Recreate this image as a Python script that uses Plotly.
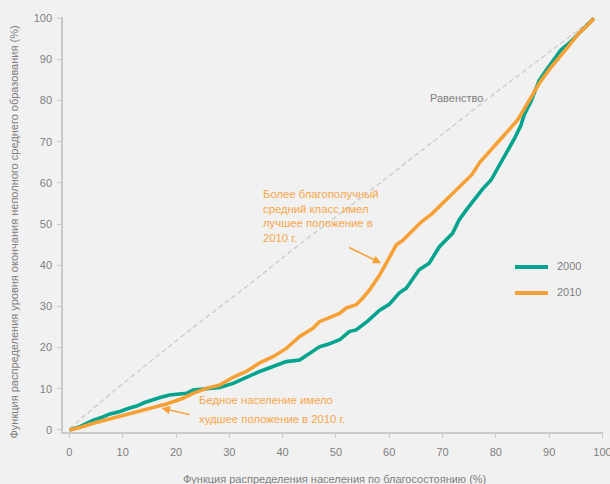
import plotly.graph_objects as go

# Cumulative distribution of lower-secondary completion vs. wealth percentile
x_2000 = [0, 2, 4.5, 6, 7.6, 9.5, 11, 12.6, 14, 15.7, 17, 18.8, 20.5, 22, 23.2, 25.7,
          28.2, 30.7, 33.2, 35.7, 38.2, 40.7, 43.2, 45, 46.9, 48.5, 50.7, 52.5, 53.8,
          56, 58.2, 60, 61.9, 63.2, 65.6, 67.5, 69.4, 71.9, 73.1, 74.5, 76.3, 77.5,
          79.1, 80.6, 82, 83.5, 84.7, 85.3, 86.5, 88.1, 89.5, 91, 92.2, 93.8, 95.6,
          97, 98.4]
y_2000 = [0, 0.8, 2.4, 3.0, 3.9, 4.5, 5.2, 5.8, 6.6, 7.4, 7.9, 8.5, 8.6, 8.9, 9.7, 9.9,
          10.3, 11.3, 12.8, 14.2, 15.4, 16.6, 17.0, 18.5, 20.2, 20.8, 21.9, 23.9, 24.3,
          26.5, 29.1, 30.5, 33.3, 34.4, 38.9, 40.5, 44.5, 47.8, 51, 53.5, 56.7, 58.5,
          60.7, 64, 67.2, 70.8, 74, 76.5, 79.5, 84.8, 87.5, 90, 92.3, 94, 96.4, 98, 100]

x_2010 = [0, 2, 4.5, 6.5, 8.2, 10.7, 12.5, 14.5, 16.5, 18.2, 20, 21.3, 23.2, 25.7, 28.2,
          30.7, 33.2, 35.7, 38.2, 40.7, 43.2, 45.7, 46.9, 49, 50.7, 51.9, 53.8, 55, 56.3,
          58.2, 59.4, 60.3, 61.3, 62.5, 64.4, 66, 68.1, 70, 71.9, 73.8, 75.5, 77, 79.5,
          81.5, 84.1, 86, 88.2, 90, 92.4, 93.5, 95.6, 97, 98.4]
y_2010 = [0, 0.6, 1.6, 2.3, 2.8, 3.6, 4.3, 4.9, 5.6, 6.3, 7.1, 7.7, 8.9, 10.1, 10.9,
          12.8, 14.2, 16.3, 17.8, 19.8, 22.7, 24.7, 26.3, 27.4, 28.3, 29.6, 30.4, 32, 34,
          37.6, 40.5, 42.5, 44.9, 46, 48.6, 50.5, 52.6, 55, 57.5, 59.9, 62, 65, 68.5,
          71.5, 75.3, 79.5, 84.3, 87.5, 91.5, 93, 96.4, 98, 100]

x_equal = [0, 8.8, 22.6, 33.9, 42.6, 50, 58.2, 68, 77.5, 88, 98.4]
y_equal = [0.3, 10, 24.3, 35.5, 44.5, 51.8, 59.9, 69.8, 79.5, 89.8, 100]

x_ticks = [0, 10, 20, 30, 40, 50, 60, 70, 80, 90, 100]
y_ticks = [0, 10, 20, 30, 40, 50, 60, 70, 80, 90, 100]

series_names = ["2000", "2010"]
TEAL = "#00a38d"
ORANGE = "#f7a035"
NOTE = "#f7a64a"
GRAY_TXT = "#7f7f7f"
AXIS = "#c9c9c9"
FONT = "Liberation Sans, Arial, sans-serif"

fig = go.Figure()
fig.add_trace(go.Scatter(x=x_equal, y=y_equal, mode="lines", showlegend=False,
                         line=dict(color="#cacaca", width=1.3, dash="5px,3px")))
fig.add_trace(go.Scatter(x=x_2000, y=y_2000, mode="lines", name=series_names[0],
                         showlegend=False, line=dict(color=TEAL, width=3.6)))
fig.add_trace(go.Scatter(x=x_2010, y=y_2010, mode="lines", name=series_names[1],
                         showlegend=False, line=dict(color=ORANGE, width=3.6)))

W, H = 610, 484
L, R, T, B = 63, 7, 17, 52
pw, ph = W - L - R, H - T - B


def px_x(p):
    return (p - L) / pw


def px_y(p):
    return (H - B - p) / ph


# Legend drawn as swatch + label pairs
shapes = []
annotations = []
for name, col, py in [(series_names[0], TEAL, 267), (series_names[1], ORANGE, 293)]:
    shapes.append(dict(type="line", xref="paper", yref="paper",
                       x0=px_x(515), x1=px_x(548), y0=px_y(py), y1=px_y(py),
                       line=dict(color=col, width=4)))
    annotations.append(dict(text=name, xref="paper", yref="paper", x=px_x(555),
                            y=px_y(py - 1), xanchor="left", yanchor="middle",
                            showarrow=False, font=dict(size=11, color=GRAY_TXT)))

annotations += [
    dict(text="Равенство", x=72.6, y=80.7, showarrow=False,
         font=dict(size=11, color=GRAY_TXT)),
    dict(text="Более благополучный<br>средний класс имел<br>лучшее положение в<br>2010 г.",
         x=36.0, y=51.9, xanchor="left", yanchor="middle", align="left",
         showarrow=False, font=dict(size=11.3, color=NOTE)),
    dict(text="Бедное население имело", x=24.0, y=7.3, xanchor="left",
         yanchor="middle", showarrow=False, font=dict(size=11.3, color=NOTE)),
    dict(text="худшее положение в 2010 г.", x=24.0, y=2.6, xanchor="left",
         yanchor="middle", showarrow=False, font=dict(size=11.3, color=NOTE)),
    # arrows
    dict(text="", x=58.5, y=40.5, ax=52.2, ay=44.5, axref="x", ayref="y",
         showarrow=True, arrowhead=2, arrowsize=1.1, arrowwidth=1.5,
         arrowcolor=ORANGE, standoff=0),
    dict(text="", x=17.3, y=5.27, ax=22.9, ay=3.64, axref="x", ayref="y",
         showarrow=True, arrowhead=2, arrowsize=1.1, arrowwidth=1.5,
         arrowcolor=ORANGE, standoff=0),
    # axis titles
    dict(text="Функция распределения населения по благосостоянию (%)",
         xref="paper", yref="paper", x=px_x(334.5), y=px_y(479),
         xanchor="center", yanchor="middle", showarrow=False,
         font=dict(size=11, color=GRAY_TXT)),
    dict(text="Функция распределения уровня окончания неполного среднего образования (%)",
         xref="paper", yref="paper", x=px_x(14), y=px_y(232.5), textangle=-90,
         xanchor="center", yanchor="middle", showarrow=False,
         font=dict(size=11, color=GRAY_TXT)),
]

axis_common = dict(showgrid=False, zeroline=False, showline=True, linecolor=AXIS,
                   linewidth=1.5, ticks="outside", ticklen=4, tickcolor=AXIS,
                   tickwidth=1.2, tickfont=dict(size=11, color=GRAY_TXT))

fig.update_layout(
    width=W, height=H,
    margin=dict(l=L, r=R, t=T, b=B, autoexpand=False),
    paper_bgcolor="#f1f1f1", plot_bgcolor="#f1f1f1",
    font=dict(family=FONT, color=GRAY_TXT),
    xaxis=dict(range=[-1.2, 100.1], tickvals=x_ticks, ticklabelstandoff=5,
               ticklabeloverflow="allow", **axis_common),
    yaxis=dict(range=[-0.5, 100.3], tickvals=y_ticks, ticklabelstandoff=3, **axis_common),
    shapes=shapes,
    annotations=annotations,
    showlegend=False,
)

fig.write_html("out.html")
